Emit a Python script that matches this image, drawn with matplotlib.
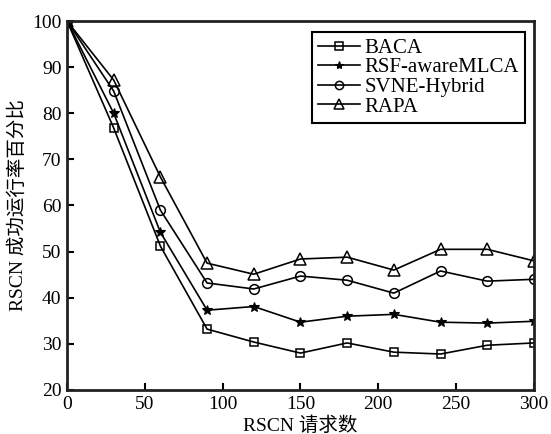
import matplotlib
matplotlib.use('Agg')
import matplotlib.pyplot as plt

# request counts on the x axis
requests = [0, 30, 60, 90, 120, 150, 180, 210, 240, 270, 300]

# success rate (%) per algorithm
baca = [100, 76.8, 51.2, 33.2, 30.4, 28.0, 30.2, 28.2, 27.8, 29.7, 30.2]
rsf_mlca = [100, 80.0, 54.2, 37.3, 38.1, 34.7, 36.0, 36.4, 34.7, 34.5, 34.9]
svne_hybrid = [100, 84.8, 59.0, 43.2, 41.9, 44.7, 43.8, 41.0, 45.8, 43.6, 44.0]
rapa = [100, 87.2, 66.2, 47.5, 45.1, 48.4, 48.8, 46.0, 50.5, 50.5, 48.0]

series_names = ['BACA', 'RSF-awareMLCA', 'SVNE-Hybrid', 'RAPA']

plt.rcParams['font.family'] = ['Liberation Serif', 'Noto Sans CJK SC']
plt.rcParams['font.size'] = 14

fig = plt.figure(figsize=(5.51, 4.34), dpi=100)
ax = fig.add_axes([0.1216, 0.1014, 0.8474, 0.8502])

ax.plot(requests, baca, color='black', lw=1.2, marker='s', ms=6,
        mfc='none', mec='black', mew=1.1, label=series_names[0])
ax.plot(requests, rsf_mlca, color='black', lw=1.2, marker='*', ms=7,
        mfc='black', mec='black', mew=0.8, label=series_names[1])
ax.plot(requests, svne_hybrid, color='black', lw=1.2, marker='o', ms=7,
        mfc='none', mec='black', mew=1.1, label=series_names[2])
ax.plot(requests, rapa, color='black', lw=1.2, marker='^', ms=8.5,
        mfc='none', mec='black', mew=1.1, label=series_names[3])

ax.set_xlim(0, 300)
ax.set_ylim(20, 100)
ax.set_xticks([0, 50, 100, 150, 200, 250, 300])
ax.set_yticks(range(20, 101, 10))
ax.tick_params(direction='in', length=5, width=1.5, top=False, right=False, pad=4)
for s in ax.spines.values():
    s.set_linewidth(2)
    s.set_color('#222222')

ax.set_xlabel('RSCN 请求数', labelpad=3)
ax.set_ylabel('RSCN 成功运行率百分比', labelpad=4)

leg = ax.legend(loc='upper right', bbox_to_anchor=(0.981, 0.970), borderaxespad=0,
                fancybox=False, edgecolor='black', framealpha=1, handlelength=2.0,
                handletextpad=0.2, labelspacing=0.0, borderpad=0.3, fontsize=15,
                markerscale=0.85)
leg.get_frame().set_linewidth(1.5)

fig.savefig('out.png', dpi=100)
